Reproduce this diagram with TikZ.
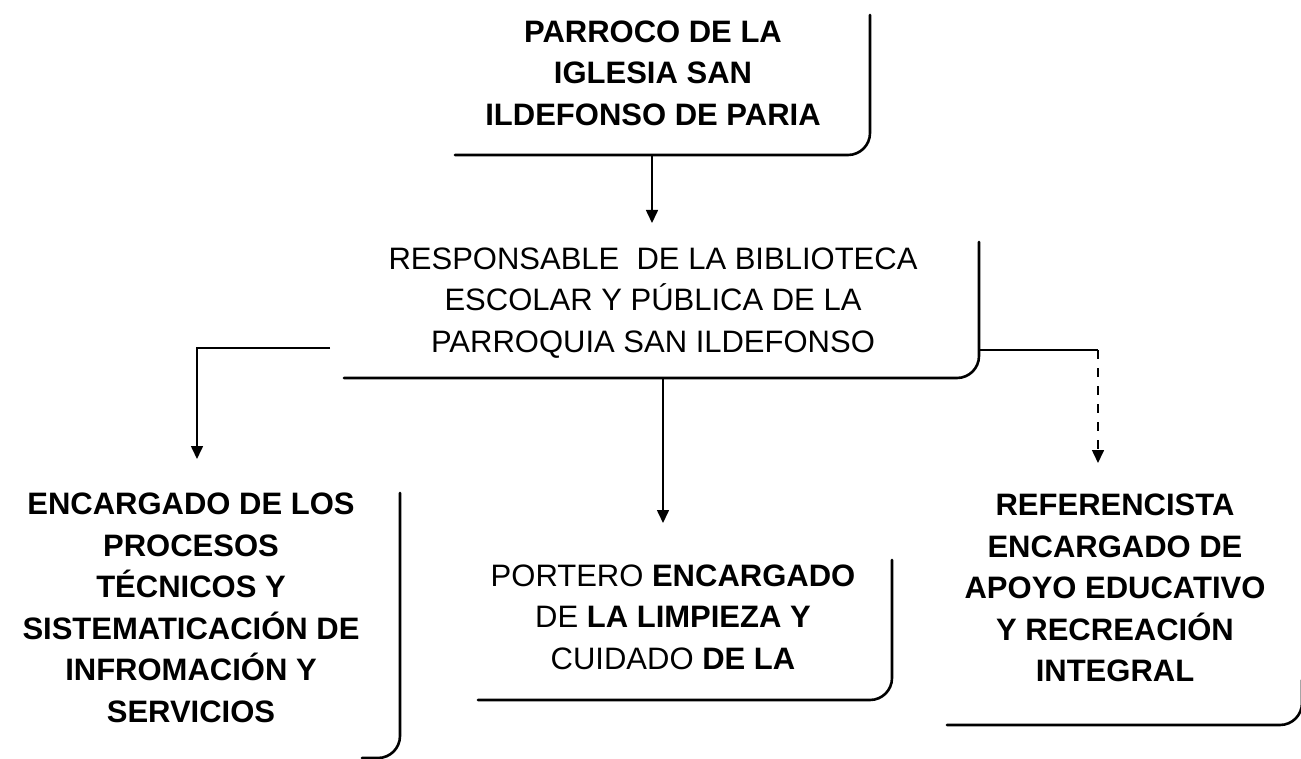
\documentclass[tikz,border=0pt]{standalone}
\usepackage{fontspec}
\setmainfont{Liberation Sans}
\usetikzlibrary{arrows.meta}
\begin{document}
\begin{tikzpicture}[x=1pt,y=-1pt,
  lbl/.style={align=center, font=\fontsize{31}{41.5}\selectfont, inner sep=0pt, text=black},
  boldlbl/.style={lbl, font=\fontsize{31}{41.5}\selectfont\bfseries},
  boxedge/.style={line width=2.6pt, rounded corners=22pt, line cap=round},
  conn/.style={line width=1.6pt, -{Triangle[length=13pt,width=12pt]}},
  plainconn/.style={line width=1.6pt},
  dashconn/.style={line width=1.6pt, dash pattern=on 9pt off 9pt, -{Triangle[length=13pt,width=12pt]}},
]
\useasboundingbox[fill=white] (0,0) rectangle (1301,759);

% text nodes
\node[boldlbl] (parroco) at (653,73) {PARROCO DE LA\\IGLESIA SAN\\ILDEFONSO DE PARIA};
\node[lbl] (resp) at (653,303) {RESPONSABLE \ DE LA BIBLIOTECA\\ESCOLAR Y PÚBLICA DE LA\\PARROQUIA SAN ILDEFONSO};
\node[boldlbl] (procesos) at (191,608) {ENCARGADO DE LOS\\PROCESOS\\TÉCNICOS Y\\SISTEMATICACIÓN DE\\INFROMACIÓN Y\\SERVICIOS};
\node[lbl] (portero) at (673,617) {PORTERO \textbf{ENCARGADO}\\DE \textbf{LA LIMPIEZA Y}\\CUIDADO \textbf{DE LA}};
\node[boldlbl] (ref) at (1115,588) {REFERENCISTA\\ENCARGADO DE\\APOYO EDUCATIVO\\Y RECREACIÓN\\INTEGRAL};

% box corners
\coordinate (parroco-ne) at (870,15);
\coordinate (parroco-se) at (870,155);
\coordinate (parroco-sw) at (455,155);
\coordinate (resp-ne) at (979,242);
\coordinate (resp-se) at (979,378);
\coordinate (resp-sw) at (344,378);
\coordinate (procesos-ne) at (400,493);
\coordinate (procesos-se) at (400,758);
\coordinate (procesos-sw) at (362,758);
\coordinate (portero-ne) at (892,560);
\coordinate (portero-se) at (892,700);
\coordinate (portero-sw) at (478,700);
\coordinate (ref-ne) at (1302,680);
\coordinate (ref-se) at (1302,725);
\coordinate (ref-sw) at (947,725);

\draw[boxedge] (parroco-ne) -- (parroco-se) -- (parroco-sw);
\draw[boxedge] (resp-ne) -- (resp-se) -- (resp-sw);
\draw[boxedge] (procesos-ne) -- (procesos-se) -- (procesos-sw);
\draw[boxedge] (portero-ne) -- (portero-se) -- (portero-sw);
\draw[boxedge] (ref-ne) -- (ref-se) -- (ref-sw);

% connector end points
\coordinate (parroco-out) at (652,155);
\coordinate (resp-in) at (652,223);
\coordinate (resp-west) at (330,348);
\coordinate (resp-east) at (979,350);
\coordinate (resp-out) at (663,378);
\coordinate (procesos-in) at (197,459);
\coordinate (portero-in) at (663,523);
\coordinate (ref-turn) at (1098,350);
\coordinate (ref-in) at (1098,463);

\draw[conn] (parroco-out) -- (resp-in);
\draw[conn] (resp-west) -| (procesos-in);
\draw[conn] (resp-out) -- (portero-in);
\draw[plainconn] (resp-east) -- (ref-turn);
\draw[dashconn] (ref-turn) -- (ref-in);
\end{tikzpicture}
\end{document}
